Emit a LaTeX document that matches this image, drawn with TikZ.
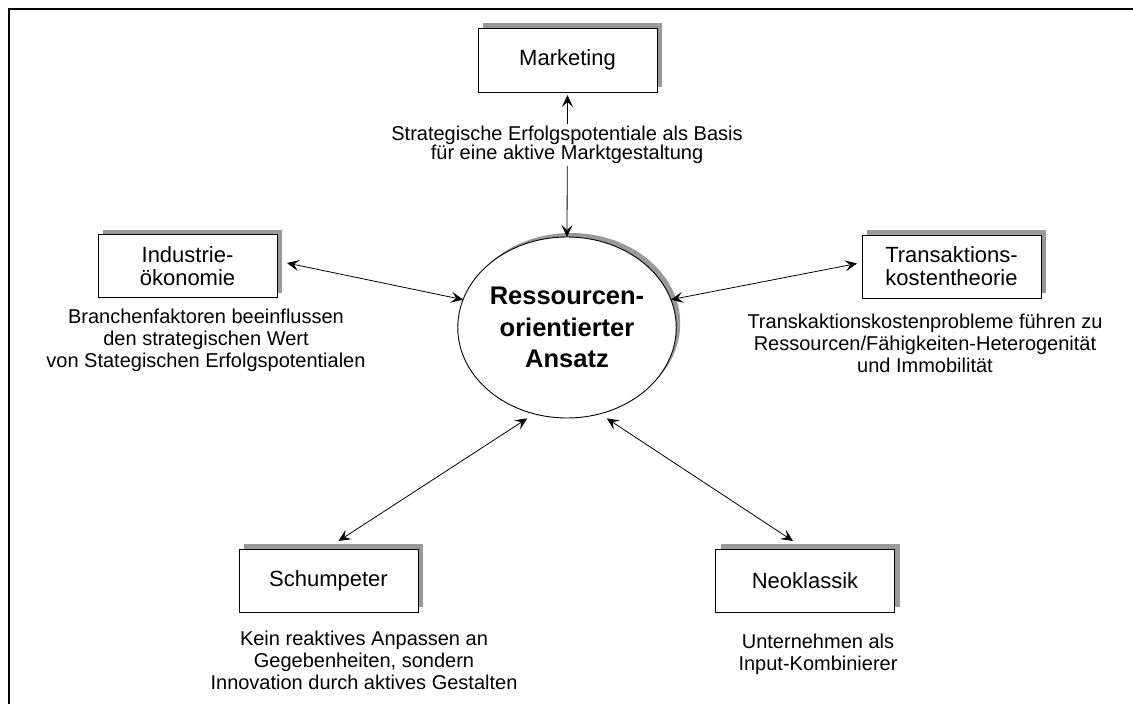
\documentclass[tikz,border=0pt]{standalone}
\usepackage{fontspec}
\setmainfont{Liberation Sans}
\usetikzlibrary{arrows.meta,shapes.geometric,shadows}
\definecolor{shadowgray}{RGB}{153,153,153}
\begin{document}
\begin{tikzpicture}[x=1pt,y=-1pt,
  every node/.style={inner sep=0pt,outer sep=0pt},
  boxshadow/.style={drop shadow={shadow xshift=5pt,shadow yshift=5pt,shadow scale=1,fill=shadowgray,opacity=1}},
  theorybox/.style={draw=black,line width=0.9pt,fill=white,minimum width=179pt,minimum height=63pt,
    align=center,font=\fontsize{22}{23}\selectfont,boxshadow},
  core/.style={ellipse,draw=black,line width=0.9pt,fill=white,minimum width=205pt,minimum height=181pt,
    align=center,font=\fontsize{25.5}{31.5}\selectfont\bfseries,
    drop shadow={shadow xshift=4pt,shadow yshift=4pt,shadow scale=1,fill=shadowgray,opacity=1}},
  desc/.style={align=center,font=\fontsize{20}{22}\selectfont},
  biarrow/.style={line width=0.8pt,{Stealth[length=12pt,width=11pt,inset=5pt]}-{Stealth[length=12pt,width=11pt,inset=5pt]}},
  frame/.style={line width=2pt}]
\useasboundingbox (0,0) rectangle (1133,704);

% outer frame: top and left edges only
\draw[frame] (8,9) -- (1133,9);
\draw[frame] (9,8) -- (9,704);

% central concept
\node[core] (circ) at (567,327.5) {Ressourcen-\\orientierter\\Ansatz};

% neighbouring theories
\node[theorybox,minimum height=64pt] (mkt) at (567.5,60) {Marketing};
\node[theorybox] (ind) at (187.5,266) {Industrie-\\ökonomie};
\node[theorybox] (tra) at (951.5,266.5) {Transaktions-\\kostentheorie};
\node[theorybox] (sch) at (328.5,580.5) {Schumpeter};
\node[theorybox] (neo) at (805,580.5) {Neoklassik};

% relations
\draw[biarrow,shorten >=3pt] (circ.north) -- (mkt.south);
\draw[biarrow] ([shift={(10,-3)}]ind.east) -- (circ.165);
\draw[biarrow] ([shift={(-5,-3)}]tra.west) -- (circ.15);
\draw[biarrow] ([shift={(10,-8)}]sch.north) -- ([shift={(-2,6)}]circ.246);
\draw[biarrow] ([shift={(-12,-8)}]neo.north) -- ([shift={(2,6)}]circ.294);

% descriptions
\node[desc,fill=white,inner sep=2pt,font=\fontsize{20}{15.5}\selectfont] (mktd) at (567,145)
  {Strategische Erfolgspotentiale als Basis\\für eine aktive Marktgestaltung};
\node[desc] (indd) at (206,340) {Branchenfaktoren beeinflussen\\den strategischen Wert\\von Stategischen Erfolgspotentialen};
\node[desc] (trad) at (925,343) {Transkaktionskostenprobleme führen zu\\Ressourcen/Fähigkeiten-Heterogenität\\und Immobilität};
\node[desc] (schd) at (364,660) {Kein reaktives Anpassen an\\Gegebenheiten, sondern\\Innovation durch aktives Gestalten};
\node[desc] (neod) at (818,654) {Unternehmen als\\Input-Kombinierer};
\end{tikzpicture}
\end{document}
